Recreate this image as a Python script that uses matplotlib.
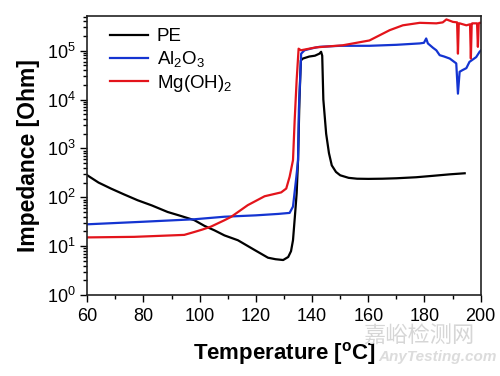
import matplotlib
matplotlib.use("Agg")
import matplotlib.pyplot as plt
from matplotlib.ticker import MultipleLocator, LogLocator, NullFormatter

plt.rcParams['font.family'] = ['Liberation Sans', 'DejaVu Sans']
plt.rcParams['mathtext.fontset'] = 'custom'
plt.rcParams['mathtext.rm'] = 'Liberation Sans'
plt.rcParams['mathtext.it'] = 'Liberation Sans:italic'
plt.rcParams['mathtext.bf'] = 'Liberation Sans:bold'

# ---- data ----
pe_T = [60, 64, 68.4, 73, 77.9, 83, 88.6, 93, 98.1, 101.7, 105.3, 108.8, 113.6, 119.6,
        124.3, 127, 129.7, 131.5, 132.5, 133.2, 134.0, 134.5, 135.0, 135.5, 136.0, 136.7,
        139, 141, 142.6, 143.2, 143.6, 144.0, 145.0, 146.0, 147.0, 148.5, 150, 153, 156,
        160, 165, 170, 177, 183, 189, 194.3]
pe_Z = [282, 200, 151, 115, 87, 68, 50, 42, 34, 26, 21, 16.6, 13.2, 8.3,
        5.8, 5.4, 5.2, 6.0, 7.9, 13.2, 50, 120, 575, 10000, 63000, 69000,
        76000, 79000, 87000, 95000, 79000, 10000, 2000, 800, 450, 330, 282, 250, 240,
        238, 240, 245, 257, 275, 295, 310]

al_T = [60, 80, 98.1, 108.8, 120, 128, 132, 133.2, 134.4, 135.0, 135.3, 136.1, 137.3,
        140, 142.6, 150, 160.4, 170, 178.3, 179.8, 180.6, 181.2, 183, 184.2, 185.4, 187,
        189, 191.3, 191.9, 192.5, 193.5, 194.9, 196, 198.4, 199.6, 200]
al_Z = [28, 31.6, 35.5, 40, 42.7, 45.7, 47.9, 64.6, 263, 575, 6300, 87000, 102000,
        112000, 120000, 126000, 126000, 132000, 141000, 145000, 178000, 141000, 115000,
        102000, 81000, 76000, 69000, 55000, 13200, 37000, 40000, 44000, 59000, 74000,
        95000, 100000]

mg_T = [60, 76.7, 94.5, 98.1, 101, 104, 108.8, 111.2, 117.1, 123.1, 129, 130.8, 132,
        133.2, 133.8, 134.5, 135.2, 136, 141.4, 150.9, 160.4, 167.6, 172.3, 178.3, 184.2,
        186.5, 187.8, 190.1, 191.6, 191.9, 192.2, 192.5, 194.9, 196.2, 196.5, 196.8, 197,
        198.7, 199, 199.3, 199.6, 200]
mg_Z = [15.1, 15.5, 17, 19.5, 21.9, 25.1, 33.9, 39.8, 69, 105, 126, 151, 263,
        575, 3800, 25000, 110000, 102000, 117000, 129000, 162000, 263000, 331000, 372000,
        363000, 380000, 437000, 389000, 380000, 87000, 363000, 363000, 331000, 347000,
        69000, 355000, 363000, 363000, 120000, 363000, 372000, 372000]

series_labels = ['PE', r'Al$_2$O$_3$', r'Mg(OH)$_2$']
series_colors = ['#000000', '#1434d1', '#e3141b']
x_ticks = [60, 80, 100, 120, 140, 160, 180, 200]

fig = plt.figure(figsize=(5.0, 3.76), dpi=100)
ax = fig.add_axes([0.1746, 0.2154, 0.7868, 0.7428])

for T, Z, lab, c in zip([pe_T, al_T, mg_T], [pe_Z, al_Z, mg_Z], series_labels, series_colors):
    ax.plot(T, Z, color=c, lw=1.6, label=lab)

ax.set_yscale('log')
ax.set_xlim(60, 200)
ax.set_ylim(1, 5.2e5)
ax.set_xticks(x_ticks)
ax.xaxis.set_minor_locator(MultipleLocator(10))
ax.yaxis.set_major_locator(LogLocator(base=10, numticks=10))
ax.yaxis.set_minor_locator(LogLocator(base=10, subs=range(2, 10), numticks=20))
ax.yaxis.set_minor_formatter(NullFormatter())

ax.tick_params(which='both', direction='out', top=False, right=False, labelsize=13, width=1.0)
ax.tick_params(which='major', length=5)
ax.tick_params(axis='x', which='major', pad=4.5)
ax.tick_params(which='minor', length=3)
for s in ax.spines.values():
    s.set_linewidth(1.2)
    s.set_color('#222222')

ax.set_xlabel('Temperature [$^\\mathregular{o}$C]', fontsize=16, fontweight='bold', labelpad=11)
ax.set_ylabel('Impedance [Ohm]', fontsize=16.5, fontweight='bold', labelpad=5)

ax.legend(loc='upper left', bbox_to_anchor=(0.058, 0.955), frameon=False, fontsize=13.5,
          handlelength=2.0, handletextpad=0.5, labelspacing=0.2, borderpad=0, borderaxespad=0)

# watermark
fig.text(0.838, 0.108, '嘉峪检测网', fontsize=16, color='#d6d6d6',
         family=['Noto Sans CJK SC', 'DejaVu Sans'], ha='center', va='center')
fig.text(0.875, 0.050, 'AnyTesting.com', fontsize=11, color='#dcdcdc', style='italic',
         fontweight='bold', ha='center', va='center')

fig.savefig('out.png', dpi=100)
